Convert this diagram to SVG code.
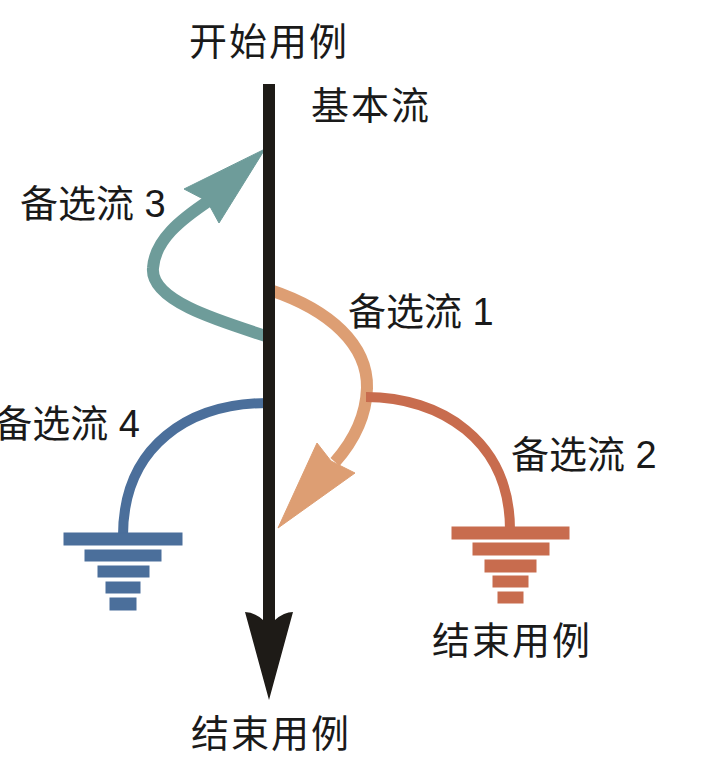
<svg xmlns="http://www.w3.org/2000/svg" width="725" height="783" viewBox="0 0 725 783">
<style>
text{font-family:"Liberation Sans","Noto Sans CJK SC",sans-serif;font-size:38px;fill:#1a1a1a}
.wide{letter-spacing:2px}
.teal{stroke:#6e9c9a;fill:#6e9c9a}
.orange{stroke:#dd9e73;fill:#dd9e73}
.red{stroke:#c86c4e;fill:#c86c4e}
.blue{stroke:#4b6f9b;fill:#4b6f9b}
</style>
<rect width="725" height="783" fill="#ffffff"/>
<g id="connectors">
<g id="alt3-flow">
<path class="teal" style="fill:none" stroke-width="12" d="M 272 338 C 215 320, 150 300, 153 268 C 155 240, 180 220, 210 200"/>
<polygon class="teal" stroke="none" points="265,149 219,223 207,201 184,189"/>
</g>
<g id="alt1-flow">
<path class="orange" style="fill:none" stroke-width="12" d="M 270 290 C 330 310, 368 345, 367 388 C 366 420, 350 445, 335 462"/>
<polygon class="orange" stroke="none" points="278,528 317,443 331,461 355,473"/>
</g>
<g id="alt2-flow">
<path class="red" style="fill:none" stroke-width="10" d="M 366 397 C 440 397, 510 440, 510 530"/>
</g>
<g id="alt4-flow">
<path class="blue" style="fill:none" stroke-width="10" d="M 268 403 C 190 403, 123 445, 123 536"/>
</g>
<g id="basic-flow">
<path fill="#1e1b17" d="M 263 620 L 263 84 L 275 84 L 275 620 Q 284 612 293 612 L 269 700 L 245 612 Q 254 612 263 620 Z"/>
</g>
</g>
<g id="end-right" class="red" stroke="none">
<rect x="452" y="527" width="117" height="12"/>
<rect x="473" y="543" width="76" height="12"/>
<rect x="485" y="560" width="51" height="12"/>
<rect x="493" y="576" width="35" height="11"/>
<rect x="498" y="592" width="25" height="11"/>
</g>
<g id="end-left" class="blue" stroke="none">
<rect x="64" y="533" width="118" height="12"/>
<rect x="85" y="550" width="76" height="11"/>
<rect x="98" y="566" width="51" height="11"/>
<rect x="106" y="582" width="34" height="11"/>
<rect x="110" y="598" width="26" height="12"/>
</g>
<g id="label-start"><text class="wide" x="189" y="55">开始用例</text></g>
<g id="label-basic"><text class="wide" x="311" y="119">基本流</text></g>
<g id="label-alt3"><text x="20" y="217">备选流 3</text></g>
<g id="label-alt1"><text x="348" y="325">备选流 1</text></g>
<g id="label-alt4"><text x="140" y="437" text-anchor="end">备选流 4</text></g>
<g id="label-alt2"><text x="511" y="468">备选流 2</text></g>
<g id="label-end-right"><text class="wide" x="432" y="654">结束用例</text></g>
<g id="label-end-bottom"><text class="wide" x="191" y="747">结束用例</text></g>
</svg>
